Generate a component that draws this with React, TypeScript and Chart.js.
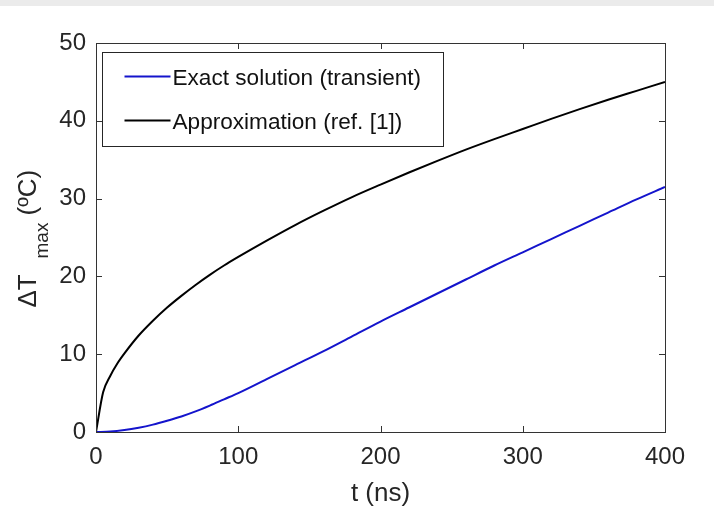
import React, { useEffect, useRef } from "react";
import { Chart, registerables } from "chart.js";

Chart.register(...registerables);

// ---- data ----
const tExact = [0, 10, 20, 30, 40, 50, 60, 70, 80, 90, 100, 120, 140, 160, 180, 200, 220, 240, 260, 280, 300, 320, 340, 360, 380, 400];
const exactValues = [0, 0.06, 0.25, 0.55, 0.95, 1.45, 2.0, 2.65, 3.4, 4.2, 5.0, 6.8, 8.6, 10.4, 12.3, 14.2, 16.0, 17.8, 19.6, 21.4, 23.1, 24.8, 26.5, 28.2, 29.9, 31.5];

const tApprox = [0, 5, 10, 15, 20, 30, 40, 50, 60, 70, 80, 90, 100, 120, 140, 160, 180, 200, 220, 240, 260, 280, 300, 320, 340, 360, 380, 400];
const approxValues = [0, 5.1, 7.2, 8.8, 10.1, 12.4, 14.3, 16.0, 17.5, 18.9, 20.2, 21.4, 22.5, 24.6, 26.6, 28.45, 30.2, 31.8, 33.35, 34.85, 36.3, 37.65, 38.95, 40.25, 41.5, 42.7, 43.85, 45.0];

const seriesLabels = ["Exact solution (transient)", "Approximation (ref. [1])"];
const xTicks = [0, 100, 200, 300, 400];
const yTicks = [0, 10, 20, 30, 40, 50];
const xTitle = "t (ns)";
const yTitleMain = "ΔT";
const yTitleSub = "max";
const yTitleUnit = "(ºC)";

const FONT = "'Liberation Sans', Arial, Helvetica, sans-serif";
const AXIS_COLOR = "#262626";

const framePlugin = {
  id: "matlabFrame",
  beforeDraw(chart: any) {
    const ctx = chart.ctx;
    ctx.save();
    ctx.fillStyle = "#ffffff";
    ctx.fillRect(0, 0, chart.width, chart.height);
    ctx.fillStyle = "#ebebeb";
    ctx.fillRect(0, 0, chart.width, 6);
    ctx.restore();
  },
  afterDraw(chart: any) {
    const ctx = chart.ctx;
    const { left, right, top, bottom } = chart.chartArea;
    const xs = chart.scales.x;
    const ys = chart.scales.y;
    const tl = 6;
    ctx.save();
    ctx.strokeStyle = "#333333";
    ctx.lineWidth = 1;
    ctx.strokeRect(Math.round(left) + 0.5, Math.round(top) + 0.5, Math.round(right - left), Math.round(bottom - top));
    ctx.beginPath();
    xTicks.forEach((v) => {
      const px = Math.round(xs.getPixelForValue(v)) + 0.5;
      ctx.moveTo(px, bottom);
      ctx.lineTo(px, bottom - tl);
      ctx.moveTo(px, top);
      ctx.lineTo(px, top + tl);
    });
    yTicks.forEach((v) => {
      const py = Math.round(ys.getPixelForValue(v)) + 0.5;
      ctx.moveTo(left, py);
      ctx.lineTo(left + tl, py);
      ctx.moveTo(right, py);
      ctx.lineTo(right - tl, py);
    });
    ctx.stroke();

    // legend box
    const lx = Math.round(left) + 6.5;
    const ly = Math.round(top) + 9.5;
    const lw = 341;
    const lh = 94;
    ctx.fillStyle = "#ffffff";
    ctx.fillRect(lx, ly, lw, lh);
    ctx.strokeStyle = "#262626";
    ctx.strokeRect(lx, ly, lw, lh);
    const rows = [ly + 24, ly + 68];
    chart.data.datasets.forEach((ds: any, i: number) => {
      const cy = rows[i];
      ctx.strokeStyle = ds.borderColor;
      ctx.lineWidth = 2;
      ctx.beginPath();
      ctx.moveTo(lx + 22, cy);
      ctx.lineTo(lx + 68, cy);
      ctx.stroke();
      ctx.fillStyle = "#111111";
      ctx.font = `22.6px ${FONT}`;
      ctx.textBaseline = "middle";
      ctx.textAlign = "left";
      ctx.fillText(ds.label, lx + 70, cy + 2);
    });

    // y-axis title with subscript
    const cy = (top + bottom) / 2;
    ctx.translate(36, cy);
    ctx.rotate(-Math.PI / 2);
    ctx.fillStyle = AXIS_COLOR;
    ctx.textAlign = "left";
    ctx.textBaseline = "alphabetic";
    ctx.font = `26px ${FONT}`;
    ctx.fillText(yTitleMain, -70, 0);
    ctx.font = `19px ${FONT}`;
    ctx.fillText(yTitleSub, -21, 12);
    ctx.font = `26px ${FONT}`;
    ctx.fillText(yTitleUnit, 22, 0);
    ctx.restore();
  },
};

export default function App() {
  const ref = useRef<HTMLCanvasElement | null>(null);
  useEffect(() => {
    if (!ref.current) return;
    const chart = new Chart(ref.current, {
      type: "line",
      data: {
        datasets: [
          {
            label: seriesLabels[0],
            data: tExact.map((t, i) => ({ x: t, y: exactValues[i] })),
            borderColor: "#1414cc",
            borderWidth: 2,
            pointRadius: 0,
            cubicInterpolationMode: "monotone",
            fill: false,
          },
          {
            label: seriesLabels[1],
            data: tApprox.map((t, i) => ({ x: t, y: approxValues[i] })),
            borderColor: "#000000",
            borderWidth: 2,
            pointRadius: 0,
            cubicInterpolationMode: "monotone",
            fill: false,
          },
        ],
      },
      options: {
        animation: false,
        responsive: false,
        devicePixelRatio: 1,
        layout: { padding: { left: 0, top: 43, right: 49, bottom: 0 } },
        plugins: {
          legend: { display: false },
          tooltip: { enabled: false },
          title: { display: false },
        },
        scales: {
          x: {
            type: "linear",
            min: 0,
            max: 400,
            afterFit(scale: any) {
              scale.height = 74;
            },
            afterBuildTicks(scale: any) {
              scale.ticks = xTicks.map((v) => ({ value: v }));
            },
            grid: { display: false, drawTicks: false },
            border: { display: false },
            ticks: {
              color: AXIS_COLOR,
              font: { family: FONT, size: 24 },
              padding: 11,
              maxRotation: 0,
              autoSkip: false,
            },
            title: {
              display: true,
              text: xTitle,
              color: AXIS_COLOR,
              font: { family: FONT, size: 26, lineHeight: 1 },
              padding: { top: 0, bottom: -1 },
            },
          },
          y: {
            type: "linear",
            min: 0,
            max: 50,
            afterFit(scale: any) {
              scale.width = 96;
            },
            afterBuildTicks(scale: any) {
              scale.ticks = yTicks.map((v) => ({ value: v }));
            },
            grid: { display: false, drawTicks: false },
            border: { display: false },
            ticks: {
              color: AXIS_COLOR,
              font: { family: FONT, size: 24 },
              padding: 10,
              autoSkip: false,
            },
          },
        },
      } as any,
      plugins: [framePlugin],
    });
    return () => chart.destroy();
  }, []);

  return (
    <div style={{ position: "fixed", left: 0, top: 0, width: 714, height: 506, background: "#fff" }}>
      <canvas ref={ref} width={714} height={506} style={{ display: "block" }} />
    </div>
  );
}
